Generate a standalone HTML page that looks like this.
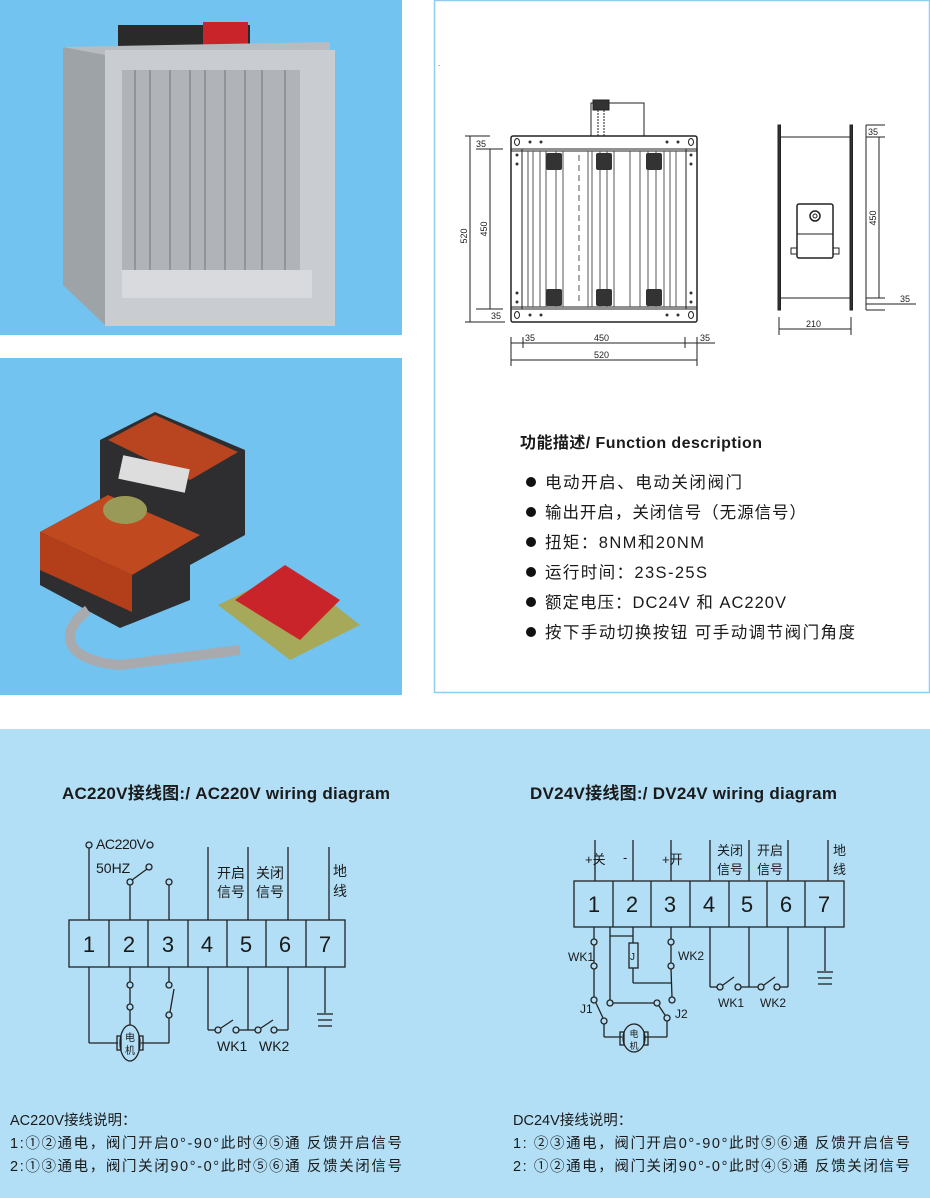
<!DOCTYPE html>
<html><head><meta charset="utf-8"><style>
html,body{margin:0;padding:0;background:#fff;}
svg{display:block;}
text{font-family:"Liberation Sans","Noto Sans CJK SC",sans-serif;}
</style></head><body>
<svg width="930" height="1198" viewBox="0 0 930 1198" xmlns="http://www.w3.org/2000/svg">
<rect x="0" y="0" width="402" height="335" fill="#72c3ef"/>
<rect x="0" y="358" width="402" height="337" fill="#72c3ef"/>
<g>
<rect x="118" y="25" width="132" height="22" fill="#2a2a2a"/>
<rect x="203" y="22" width="45" height="28" fill="#c8242a"/>
<polygon points="63,47 330,42 330,300 63,285" fill="#b8bcc0"/>
<polygon points="63,47 105,55 105,325 63,285" fill="#9ea3a8"/>
<rect x="105" y="50" width="230" height="276" fill="#c9ccd0"/>
<rect x="122" y="70" width="178" height="210" fill="#b0b4b9"/>
<g stroke="#8f949a" stroke-width="2">
<line x1="135" y1="70" x2="135" y2="280"/><line x1="150" y1="70" x2="150" y2="280"/><line x1="170" y1="70" x2="170" y2="280"/><line x1="190" y1="70" x2="190" y2="280"/><line x1="205" y1="70" x2="205" y2="280"/><line x1="225" y1="70" x2="225" y2="280"/><line x1="245" y1="70" x2="245" y2="280"/><line x1="262" y1="70" x2="262" y2="280"/><line x1="285" y1="70" x2="285" y2="280"/>
</g>
<rect x="122" y="270" width="190" height="28" fill="#d8dadd"/>
</g>
<g>
<polygon points="100,440 155,412 245,450 245,535 190,565 100,525" fill="#2e2e30"/>
<polygon points="108,440 155,415 238,452 190,480" fill="#b94420"/>
<polygon points="40,532 108,495 190,530 190,600 120,628 40,585" fill="#2e2e30"/>
<polygon points="40,532 108,495 200,535 132,575" fill="#c0491f"/>
<polygon points="40,532 132,575 132,612 40,570" fill="#b23e1a"/>
<rect x="120" y="462" width="68" height="24" fill="#ddd" transform="rotate(12 154 474)"/>
<ellipse cx="125" cy="510" rx="22" ry="14" fill="#9a9a58"/>
<path d="M88 610 C60 630 60 660 120 665 L240 650" stroke="#a8aaae" stroke-width="10" fill="none"/>
<polygon points="218,605 290,570 360,625 290,660" fill="#a6a85a"/>
<polygon points="235,600 285,565 340,600 300,640" fill="#c8242a"/>
</g>
<rect x="434.5" y="0.5" width="495" height="692" fill="#fff" stroke="#8fcdf1" stroke-width="1.5"/>
<g stroke="#222" fill="none" stroke-width="1">
<rect x="591" y="103" width="53" height="33" fill="#fff"/>
<rect x="593" y="100" width="16" height="10" fill="#333"/>
<line x1="598" y1="110" x2="598" y2="136" stroke-dasharray="2 1"/><line x1="604" y1="110" x2="604" y2="136" stroke-dasharray="2 1"/>
<rect x="511" y="136" width="186" height="186" rx="2" stroke-width="1.5"/>
<line x1="511" y1="149" x2="697" y2="149"/><line x1="511" y1="151" x2="697" y2="151"/>
<line x1="511" y1="307" x2="697" y2="307"/><line x1="511" y1="309" x2="697" y2="309"/>
<line x1="522" y1="149" x2="522" y2="309"/><line x1="686" y1="149" x2="686" y2="309"/>
<g stroke="#555">
<line x1="528" y1="151" x2="528" y2="307"/><line x1="533" y1="151" x2="533" y2="307"/><line x1="540" y1="151" x2="540" y2="307"/><line x1="546" y1="151" x2="546" y2="307"/><line x1="556" y1="151" x2="556" y2="307"/><line x1="563" y1="151" x2="563" y2="307"/><line x1="588" y1="151" x2="588" y2="307"/><line x1="592" y1="151" x2="592" y2="307"/><line x1="600" y1="151" x2="600" y2="307"/><line x1="607" y1="151" x2="607" y2="307"/><line x1="614" y1="151" x2="614" y2="307"/><line x1="630" y1="151" x2="630" y2="307"/><line x1="640" y1="151" x2="640" y2="307"/><line x1="648" y1="151" x2="648" y2="307"/><line x1="656" y1="151" x2="656" y2="307"/><line x1="664" y1="151" x2="664" y2="307"/><line x1="670" y1="151" x2="670" y2="307"/><line x1="676" y1="151" x2="676" y2="307"/>
<line x1="579" y1="155" x2="579" y2="305" stroke-dasharray="6 4"/><line x1="630" y1="155" x2="630" y2="305" stroke-dasharray="6 4"/>
</g>
<g fill="#333" stroke="none">
<rect x="546" y="153" width="16" height="17" rx="2"/><rect x="596" y="153" width="16" height="17" rx="2"/><rect x="646" y="153" width="16" height="17" rx="2"/>
<rect x="546" y="289" width="16" height="17" rx="2"/><rect x="596" y="289" width="16" height="17" rx="2"/><rect x="646" y="289" width="16" height="17" rx="2"/>
<circle cx="530" cy="142" r="1.5"/><circle cx="541" cy="142" r="1.5"/><circle cx="667" cy="142" r="1.5"/><circle cx="678" cy="142" r="1.5"/>
<circle cx="530" cy="315" r="1.5"/><circle cx="541" cy="315" r="1.5"/><circle cx="667" cy="315" r="1.5"/><circle cx="678" cy="315" r="1.5"/>
<circle cx="517" cy="155" r="1.5"/><circle cx="517" cy="164" r="1.5"/><circle cx="691" cy="155" r="1.5"/><circle cx="691" cy="164" r="1.5"/>
<circle cx="517" cy="293" r="1.5"/><circle cx="517" cy="302" r="1.5"/><circle cx="691" cy="293" r="1.5"/><circle cx="691" cy="302" r="1.5"/>
</g>
<ellipse cx="517" cy="142" rx="2.5" ry="3.5"/><ellipse cx="691" cy="142" rx="2.5" ry="3.5"/><ellipse cx="517" cy="315" rx="2.5" ry="3.5"/><ellipse cx="691" cy="315" rx="2.5" ry="3.5"/>
<line x1="470" y1="136" x2="470" y2="322"/><line x1="465" y1="136" x2="490" y2="136"/><line x1="465" y1="322" x2="505" y2="322"/>
<line x1="490" y1="149" x2="490" y2="309"/><line x1="476" y1="149" x2="503" y2="149"/><line x1="476" y1="309" x2="503" y2="309"/>
<line x1="511" y1="337" x2="511" y2="366"/><line x1="697" y1="337" x2="697" y2="366"/>
<line x1="523" y1="337" x2="523" y2="348"/><line x1="685" y1="337" x2="685" y2="348"/>
<line x1="511" y1="343" x2="715" y2="343"/><line x1="511" y1="360" x2="697" y2="360"/>
<rect x="778" y="125" width="2.5" height="185" fill="#333"/><rect x="850" y="125" width="2.5" height="185" fill="#333"/>
<line x1="780" y1="137" x2="850" y2="137"/><line x1="780" y1="298" x2="850" y2="298"/>
<rect x="797" y="204" width="36" height="54" rx="2" stroke-width="1.5"/>
<line x1="797" y1="234" x2="833" y2="234"/>
<rect x="791" y="248" width="6" height="6"/><rect x="833" y="248" width="6" height="6"/>
<circle cx="815" cy="216" r="5" stroke-width="1.5"/><circle cx="815" cy="216" r="2"/>
<line x1="866" y1="125" x2="866" y2="310"/><line x1="866" y1="125" x2="885" y2="125"/><line x1="866" y1="137" x2="885" y2="137"/>
<line x1="879" y1="137" x2="879" y2="298"/><line x1="866" y1="298" x2="885" y2="298"/><line x1="866" y1="310" x2="885" y2="310"/>
<line x1="866" y1="304" x2="916" y2="304"/>
<line x1="779" y1="317" x2="779" y2="335"/><line x1="851" y1="317" x2="851" y2="335"/><line x1="779" y1="329" x2="851" y2="329"/>
</g>
<g font-size="9" fill="#222">
<text x="476" y="147">35</text><text x="491" y="319">35</text>
<text x="467" y="236" transform="rotate(-90 467 236)" text-anchor="middle">520</text>
<text x="487" y="229" transform="rotate(-90 487 229)" text-anchor="middle">450</text>
<text x="525" y="341">35</text><text x="594" y="341">450</text><text x="700" y="341">35</text><text x="594" y="358">520</text>
<text x="868" y="135">35</text><text x="900" y="302">35</text><text x="806" y="327">210</text>
<text x="876" y="218" transform="rotate(-90 876 218)" text-anchor="middle">450</text>
</g>
<text x="438" y="66" font-size="8" fill="#333">.</text>
<text x="520" y="448" font-size="16" font-weight="bold" fill="#1a1a1a" textLength="242">功能描述/ Function description</text>
<g font-size="16.5" fill="#1a1a1a">
<circle cx="531" cy="482" r="5" fill="#111"/><text x="545" y="488" textLength="197">电动开启、电动关闭阀门</text>
<circle cx="531" cy="512" r="5" fill="#111"/><text x="545" y="518" textLength="261">输出开启，关闭信号（无源信号）</text>
<circle cx="531" cy="542" r="5" fill="#111"/><text x="545" y="548" textLength="159">扭矩：8NM和20NM</text>
<circle cx="531" cy="572" r="5" fill="#111"/><text x="545" y="578" textLength="162">运行时间：23S-25S</text>
<circle cx="531" cy="602" r="5" fill="#111"/><text x="545" y="608" textLength="241">额定电压：DC24V 和 AC220V</text>
<circle cx="531" cy="632" r="5" fill="#111"/><text x="545" y="638" textLength="310">按下手动切换按钮 可手动调节阀门角度</text>
</g>
<rect x="0" y="729" width="930" height="469" fill="#b3dff6"/>
<text x="62" y="799" font-size="17" font-weight="bold" fill="#1a1a1a" textLength="328">AC220V接线图:/ AC220V wiring diagram</text>
<text x="530" y="799" font-size="17" font-weight="bold" fill="#1a1a1a" textLength="307">DV24V接线图:/ DV24V wiring diagram</text>
<g stroke="#222" stroke-width="1.3" fill="none">
<rect x="69" y="920" width="276" height="47"/>
<line x1="109" y1="920" x2="109" y2="967"/><line x1="148" y1="920" x2="148" y2="967"/><line x1="188" y1="920" x2="188" y2="967"/><line x1="227" y1="920" x2="227" y2="967"/><line x1="266" y1="920" x2="266" y2="967"/><line x1="306" y1="920" x2="306" y2="967"/>
<line x1="89" y1="848" x2="89" y2="920"/><circle cx="89" cy="845" r="3" fill="#b3dff6"/>
<circle cx="150" cy="845" r="3" fill="#b3dff6"/><circle cx="149" cy="867" r="3" fill="#b3dff6"/>
<line x1="147" y1="869" x2="132" y2="880"/><circle cx="130" cy="882" r="3" fill="#b3dff6"/><line x1="130" y1="885" x2="130" y2="920"/>
<circle cx="169" cy="882" r="3" fill="#b3dff6"/><line x1="169" y1="885" x2="169" y2="920"/>
<line x1="208" y1="847" x2="208" y2="920"/><line x1="248" y1="847" x2="248" y2="920"/><line x1="288" y1="847" x2="288" y2="920"/><line x1="329" y1="847" x2="329" y2="920"/>
<line x1="89" y1="967" x2="89" y2="1043"/><line x1="89" y1="1043" x2="118" y2="1043"/>
<line x1="130" y1="967" x2="130" y2="982"/><circle cx="130" cy="985" r="3" fill="#b3dff6"/><line x1="130" y1="988" x2="130" y2="1004"/><circle cx="130" cy="1007" r="3" fill="#b3dff6"/><line x1="130" y1="1010" x2="130" y2="1025"/>
<line x1="169" y1="967" x2="169" y2="982"/><circle cx="169" cy="985" r="3" fill="#b3dff6"/><line x1="174" y1="989" x2="170" y2="1012"/><circle cx="169" cy="1015" r="3" fill="#b3dff6"/><line x1="169" y1="1018" x2="169" y2="1043"/><line x1="141" y1="1043" x2="169" y2="1043"/>
<ellipse cx="130" cy="1043" rx="10" ry="18" fill="#b3dff6"/>
<rect x="117" y="1036" width="4" height="14"/><rect x="139" y="1036" width="4" height="14"/>
<line x1="208" y1="967" x2="208" y2="1030"/><line x1="208" y1="1030" x2="215" y2="1030"/><circle cx="218" cy="1030" r="3" fill="#b3dff6"/><line x1="221" y1="1028" x2="233" y2="1020"/><circle cx="236" cy="1030" r="3" fill="#b3dff6"/><line x1="239" y1="1030" x2="255" y2="1030"/>
<line x1="248" y1="967" x2="248" y2="1030"/><circle cx="258" cy="1030" r="3" fill="#b3dff6"/><line x1="261" y1="1028" x2="273" y2="1020"/><circle cx="274" cy="1030" r="3" fill="#b3dff6"/><line x1="277" y1="1030" x2="288" y2="1030"/>
<line x1="288" y1="967" x2="288" y2="1030"/>
<line x1="325" y1="967" x2="325" y2="1013"/><line x1="317" y1="1014" x2="333" y2="1014"/><line x1="318" y1="1020" x2="332" y2="1020"/><line x1="318" y1="1026" x2="332" y2="1026"/>
</g>
<g font-size="14" fill="#1a1a1a">
<text x="96" y="849" textLength="50">AC220V</text><text x="96" y="873">50HZ</text>
<text x="217" y="878">开启</text><text x="217" y="897">信号</text>
<text x="256" y="878">关闭</text><text x="256" y="897">信号</text>
<text x="333" y="876">地</text><text x="333" y="896">线</text>
<text x="217" y="1051">WK1</text><text x="259" y="1051">WK2</text>
</g>
<g font-size="22" fill="#1a1a1a" text-anchor="middle">
<text x="89" y="952">1</text><text x="129" y="952">2</text><text x="168" y="952">3</text><text x="207" y="952">4</text><text x="246" y="952">5</text><text x="285" y="952">6</text><text x="325" y="952">7</text>
</g>
<g font-size="10" fill="#1a1a1a" text-anchor="middle"><text x="130" y="1041">电</text><text x="130" y="1054">机</text></g>
<g stroke="#222" stroke-width="1.3" fill="none">
<rect x="574" y="881" width="270" height="46"/>
<line x1="613" y1="881" x2="613" y2="927"/><line x1="651" y1="881" x2="651" y2="927"/><line x1="690" y1="881" x2="690" y2="927"/><line x1="729" y1="881" x2="729" y2="927"/><line x1="767" y1="881" x2="767" y2="927"/><line x1="805" y1="881" x2="805" y2="927"/>
<line x1="595" y1="840" x2="595" y2="881"/><line x1="633" y1="840" x2="633" y2="881"/><line x1="671" y1="840" x2="671" y2="881"/>
<line x1="710" y1="840" x2="710" y2="881"/><line x1="749" y1="840" x2="749" y2="881"/><line x1="788" y1="840" x2="788" y2="881"/><line x1="828" y1="840" x2="828" y2="881"/>
<line x1="594" y1="927" x2="594" y2="939"/><circle cx="594" cy="942" r="3" fill="#b3dff6"/><line x1="594" y1="945" x2="594" y2="963"/><circle cx="594" cy="966" r="3" fill="#b3dff6"/><line x1="594" y1="969" x2="594" y2="997"/><circle cx="594" cy="1000" r="3" fill="#b3dff6"/>
<line x1="596" y1="1003" x2="603" y2="1018"/><circle cx="604" cy="1021" r="3" fill="#b3dff6"/><line x1="604" y1="1024" x2="604" y2="1037"/><line x1="604" y1="1037" x2="622" y2="1037"/>
<line x1="610" y1="927" x2="610" y2="1000"/><circle cx="610" cy="1003" r="3" fill="#b3dff6"/><line x1="613" y1="1003" x2="654" y2="1003"/><circle cx="657" cy="1003" r="3" fill="#b3dff6"/>
<line x1="610" y1="936" x2="633" y2="936"/><line x1="633" y1="927" x2="633" y2="943"/>
<rect x="629" y="943" width="9" height="25"/><line x1="633" y1="968" x2="633" y2="983"/><line x1="633" y1="983" x2="671" y2="983"/>
<line x1="671" y1="927" x2="671" y2="939"/><circle cx="671" cy="942" r="3" fill="#b3dff6"/><line x1="671" y1="945" x2="671" y2="963"/><circle cx="671" cy="966" r="3" fill="#b3dff6"/><line x1="671" y1="969" x2="672" y2="997"/><circle cx="672" cy="1000" r="3" fill="#b3dff6"/>
<line x1="659" y1="1006" x2="665" y2="1015"/><circle cx="667" cy="1018" r="3" fill="#b3dff6"/><line x1="667" y1="1021" x2="667" y2="1037"/><line x1="645" y1="1037" x2="667" y2="1037"/>
<ellipse cx="634" cy="1038" rx="11" ry="14" fill="#b3dff6"/>
<rect x="620" y="1032" width="4" height="13"/><rect x="644" y="1032" width="4" height="13"/>
<line x1="710" y1="927" x2="710" y2="987"/><line x1="710" y1="987" x2="717" y2="987"/><circle cx="720" cy="987" r="3" fill="#b3dff6"/><line x1="723" y1="985" x2="734" y2="977"/><circle cx="738" cy="987" r="3" fill="#b3dff6"/><line x1="741" y1="987" x2="758" y2="987"/>
<line x1="749" y1="927" x2="749" y2="987"/><circle cx="761" cy="987" r="3" fill="#b3dff6"/><line x1="764" y1="985" x2="775" y2="977"/><circle cx="777" cy="987" r="3" fill="#b3dff6"/><line x1="780" y1="987" x2="788" y2="987"/>
<line x1="788" y1="927" x2="788" y2="987"/>
<line x1="825" y1="927" x2="825" y2="971"/><line x1="817" y1="972" x2="833" y2="972"/><line x1="818" y1="978" x2="832" y2="978"/><line x1="818" y1="984" x2="832" y2="984"/>
</g>
<g font-size="13" fill="#1a1a1a">
<text x="585" y="864">+关</text><text x="623" y="862">-</text><text x="662" y="864">+开</text>
<text x="717" y="855">关闭</text><text x="717" y="874">信号</text>
<text x="757" y="855">开启</text><text x="757" y="874">信号</text>
<text x="833" y="855">地</text><text x="833" y="874">线</text>
<text x="568" y="961" font-size="12">WK1</text><text x="678" y="960" font-size="12">WK2</text>
<text x="580" y="1013" font-size="12">J1</text><text x="675" y="1018" font-size="12">J2</text>
<text x="718" y="1007" font-size="12">WK1</text><text x="760" y="1007" font-size="12">WK2</text>
<text x="630" y="960" font-size="10">J</text>
</g>
<g font-size="22" fill="#1a1a1a" text-anchor="middle">
<text x="594" y="912">1</text><text x="632" y="912">2</text><text x="670" y="912">3</text><text x="709" y="912">4</text><text x="747" y="912">5</text><text x="786" y="912">6</text><text x="824" y="912">7</text>
</g>
<g font-size="9" fill="#1a1a1a" text-anchor="middle"><text x="634" y="1037">电</text><text x="634" y="1049">机</text></g>
<g font-size="14.5" fill="#1a1a1a">
<text x="10" y="1125">AC220V接线说明：</text>
<text x="10" y="1148" textLength="392">1:①②通电，阀门开启0°-90°此时④⑤通  反馈开启信号</text>
<text x="10" y="1171" textLength="392">2:①③通电，阀门关闭90°-0°此时⑤⑥通  反馈关闭信号</text>
<text x="513" y="1125">DC24V接线说明：</text>
<text x="513" y="1148" textLength="397">1:  ②③通电，阀门开启0°-90°此时⑤⑥通 反馈开启信号</text>
<text x="513" y="1171" textLength="397">2:  ①②通电，阀门关闭90°-0°此时④⑤通 反馈关闭信号</text>
</g>
</svg>
</body></html>
